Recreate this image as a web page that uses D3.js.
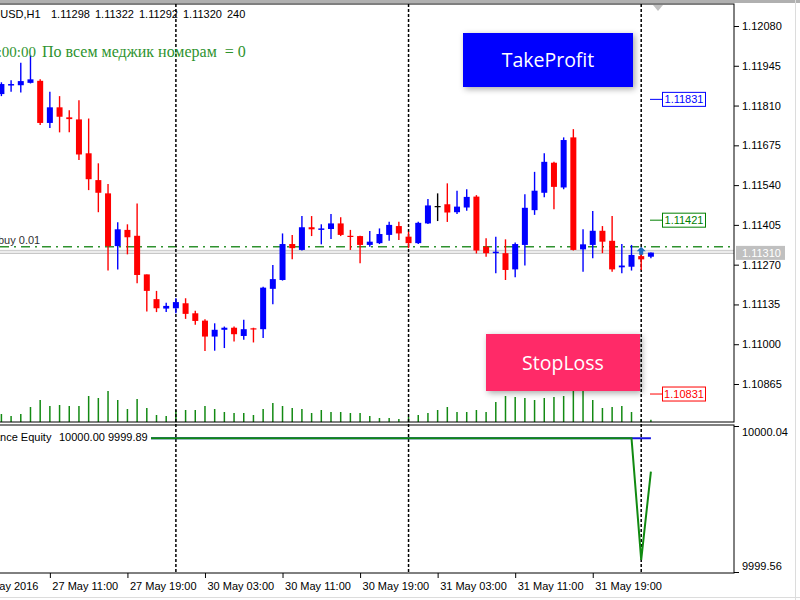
<!DOCTYPE html>
<html>
<head>
<meta charset="utf-8">
<script src="https://cdn.jsdelivr.net/npm/d3@7"></script>
<style>
  body { margin: 0; background: #fff; }
  svg { display: block; }
  .axis text { font-family: 'Liberation Sans', Arial, sans-serif; font-size: 11px; fill: #000; }
  .axis line { stroke: #000; }
</style>
</head>
<body>
<svg id="chart" width="800" height="600"></svg>
<script>
// EURUSD H1 candles, bar 0 = 27 May 06:00 ... bar 67 = 1 Jun 01:00
const opens  = [1.11849,1.11878,1.11879,1.11887,1.11894,1.11751,1.11804,1.11770,1.11763,1.11648,
                1.11557,1.11512,1.11333,1.11388,1.11368,1.11237,1.11153,1.11121,1.11122,1.11139,
                1.11105,1.11080,1.11026,1.11049,1.11056,1.11028,1.11054,1.11051,1.11188,1.11218,
                1.11340,1.11320,1.11397,1.11388,1.11391,1.11410,1.11368,1.11367,1.11337,1.11343,
                1.11371,1.11401,1.11365,1.11343,1.11410,1.11469,1.11475,1.11448,1.11464,1.11501,
                1.11331,1.11309,1.11309,1.11254,1.11337,1.11455,1.11514,1.11616,1.11532,1.11702,
                1.11322,1.11337,1.11385,1.11351,1.11261,1.11263,1.11299,1.11297];
const highs  = [1.11889,1.11896,1.11955,1.11981,1.11899,1.11857,1.11842,1.11794,1.11828,1.11766,
                1.11614,1.11544,1.11414,1.11407,1.11478,1.11237,1.11181,1.11141,1.11156,1.11156,
                1.11114,1.11085,1.11071,1.11060,1.11060,1.11083,1.11056,1.11195,1.11269,1.11376,
                1.11371,1.11435,1.11435,1.11407,1.11442,1.11431,1.11388,1.11368,1.11384,1.11393,
                1.11416,1.11416,1.11382,1.11416,1.11493,1.11512,1.11546,1.11521,1.11526,1.11506,
                1.11360,1.11365,1.11356,1.11345,1.11509,1.11585,1.11648,1.11619,1.11702,1.11730,
                1.11390,1.11452,1.11401,1.11435,1.11340,1.11337,1.11310,1.11311];
const lows   = [1.11842,1.11857,1.11854,1.11885,1.11744,1.11734,1.11719,1.11719,1.11625,1.11523,
                1.11448,1.11250,1.11254,1.11305,1.11207,1.11111,1.11109,1.11109,1.11105,1.11086,
                1.11066,1.10977,1.10978,1.10987,1.11009,1.11015,1.11006,1.11021,1.11136,1.11216,
                1.11288,1.11318,1.11367,1.11339,1.11357,1.11367,1.11320,1.11275,1.11331,1.11340,
                1.11351,1.11354,1.11326,1.11340,1.11408,1.11418,1.11415,1.11442,1.11453,1.11308,
                1.11297,1.11241,1.11218,1.11227,1.11267,1.11439,1.11499,1.11458,1.11526,1.11318,
                1.11246,1.11292,1.11309,1.11246,1.11241,1.11250,1.11252,1.11292];
const closes = [1.11883,1.11883,1.11893,1.11899,1.11751,1.11804,1.11772,1.11764,1.11644,1.11560,
                1.11514,1.11333,1.11390,1.11363,1.11235,1.11181,1.11122,1.11130,1.11143,1.11103,
                1.11079,1.11026,1.11049,1.11056,1.11034,1.11051,1.11051,1.11192,1.11221,1.11340,
                1.11326,1.11397,1.11390,1.11393,1.11410,1.11371,1.11365,1.11337,1.11348,1.11374,
                1.11405,1.11376,1.11343,1.11412,1.11471,1.11469,1.11447,1.11467,1.11500,1.11318,
                1.11309,1.11314,1.11252,1.11340,1.11463,1.11521,1.11619,1.11534,1.11693,1.11320,
                1.11339,1.11385,1.11348,1.11254,1.11267,1.11303,1.11288,1.11311];
const volumes = [880,660,880,1650,2420,1760,1870,1760,1760,2860,
                 2640,3410,2420,1430,2530,1540,770,660,1320,1320,
                 1320,1760,1430,1100,990,990,770,1430,2090,1760,
                 1540,1430,990,1320,1100,1100,990,990,660,440,
                 440,330,550,770,990,1320,1650,1100,1100,1320,
                 1100,2200,2860,2750,2640,2420,2640,2750,2860,3410,
                 3410,2420,1540,1650,1760,1100,330,240];

// Balance / Equity indicator
const balance = Array(68).fill(10000.00);
const equity = Array(66).fill(10000.00).concat([9999.60, 9999.89]);

// axis ticks
const priceTicks = [1.12080,1.11945,1.11810,1.11675,1.11540,1.11405,1.11270,1.11135,1.11000,1.10865];
const eqTicks = [10000.04, 9999.56];
const timeTickBars = [-3, 5, 13, 21, 29, 37, 45, 53, 61];
const timeLabels = ['27 May 2016','27 May 11:00','27 May 19:00','30 May 03:00','30 May 11:00',
                    '30 May 19:00','31 May 03:00','31 May 11:00','31 May 19:00'];
const daySeparators = [18, 42, 66];

// order levels
const openPrice = 1.11331;
const bidPrice = 1.11310;
const levels = [
    {price: 1.11831, color: '#0000ff'},
    {price: 1.11421, color: '#008000'},
    {price: 1.10831, color: '#ff0000'}
];
const headerVals = ['1.11298', '1.11322', '1.11292', '1.11320', '240'];

let plotRight = 734;
let mainTop = 4, mainBottom = 422;
let indTop = 425, indBottom = 573;
let font = "'Liberation Sans', Arial, sans-serif";

let svg = d3.select('#chart');

let defs = svg.append('defs');
let shadow = defs.append('filter').attr('id', 'shadow')
    .attr('x', '-20%').attr('y', '-30%').attr('width', '140%').attr('height', '160%');
shadow.append('feDropShadow')
    .attr('dx', 2).attr('dy', 2).attr('stdDeviation', 3)
    .attr('flood-color', '#000').attr('flood-opacity', 0.35);

// scales
let xScale = d3.scaleLinear().domain([0, 67]).range([1.4, 650.9]);
let yScale = d3.scaleLinear().domain([1.10865, 1.12080]).range([384, 26]);
let volScale = d3.scaleLinear().domain([0, d3.max(volumes)]).range([mainBottom, mainBottom - 31]);
let eqScale = d3.scaleLinear().domain([9999.56, 10000.04]).range([572, 426]);

let bars = opens.map(function(o, i){
    return {i: i, o: o, h: highs[i], l: lows[i], c: closes[i], v: volumes[i]};
});

// window frame
svg.append('rect').attr('x', 0).attr('y', 0).attr('width', 800).attr('height', 3).attr('fill', '#b0b0b0');
svg.append('line').attr('x1', 795.5).attr('x2', 795.5).attr('y1', 0).attr('y2', 600).attr('stroke', '#dcdcdc');
svg.append('line').attr('x1', 0).attr('x2', 800).attr('y1', 597.5).attr('y2', 597.5).attr('stroke', '#dcdcdc');

// volumes
svg.selectAll('.vol')
    .data(bars)
    .enter()
    .append('line')
    .attr('class', 'vol')
    .attr('x1', d => xScale(d.i)).attr('x2', d => xScale(d.i))
    .attr('y1', volScale(0)).attr('y2', d => volScale(d.v))
    .attr('stroke', '#138a13')
    .attr('stroke-width', 1.5);

// bid line band
svg.append('line').attr('x1', 0).attr('x2', plotRight)
    .attr('y1', yScale(bidPrice) - 2.5).attr('y2', yScale(bidPrice) - 2.5)
    .attr('stroke', '#c4c4c4').attr('stroke-width', 1);
svg.append('line').attr('x1', 0).attr('x2', plotRight)
    .attr('y1', yScale(bidPrice) + 0.5).attr('y2', yScale(bidPrice) + 0.5)
    .attr('stroke', '#c4c4c4').attr('stroke-width', 1.2);
svg.append('rect').attr('x', 0).attr('width', plotRight)
    .attr('y', yScale(bidPrice) - 2).attr('height', 2.2).attr('fill', '#ececec');

// order open price line (dash-dot)
svg.append('line').attr('x1', 0).attr('x2', plotRight)
    .attr('y1', yScale(openPrice)).attr('y2', yScale(openPrice))
    .attr('stroke', '#2f922f').attr('stroke-width', 1.5)
    .attr('stroke-dasharray', '9,5,2,5');

svg.append('text')
    .attr('x', -2).attr('y', yScale(openPrice) - 3)
    .attr('font-family', font).attr('font-size', '11px').attr('fill', '#303030')
    .text('buy 0.01');

// day separators
svg.selectAll('.sep')
    .data(daySeparators)
    .enter()
    .append('line')
    .attr('class', 'sep')
    .attr('x1', d => xScale(d)).attr('x2', d => xScale(d))
    .attr('y1', mainTop).attr('y2', indBottom)
    .attr('stroke', '#000').attr('stroke-width', 1.5)
    .attr('stroke-dasharray', '3,2');

// candles
let candle = svg.selectAll('.candle')
    .data(bars)
    .enter()
    .append('g')
    .attr('class', 'candle');

function candleColor(d){
    if(d.c > d.o){ return '#0000ff'; }
    if(d.c < d.o){ return '#ff0000'; }
    return '#000000';
}

candle.append('line')
    .attr('x1', d => xScale(d.i)).attr('x2', d => xScale(d.i))
    .attr('y1', d => yScale(d.h)).attr('y2', d => yScale(d.l))
    .attr('stroke', candleColor)
    .attr('stroke-width', 1.4);

candle.append('rect')
    .attr('x', d => xScale(d.i) - 3)
    .attr('width', 6)
    .attr('y', d => yScale(Math.max(d.o, d.c)))
    .attr('height', d => Math.max(1.2, yScale(Math.min(d.o, d.c)) - yScale(Math.max(d.o, d.c))))
    .attr('fill', candleColor);

// buy arrow on the bar where the order was opened
let ax = xScale(66), ay = yScale(openPrice);
svg.append('path')
    .attr('d', 'M' + ax + ',' + (ay) + ' l4.5,4.5 h-2.5 v3.5 h-4 v-3.5 h-2.5 z')
    .attr('fill', '#1f6cc0');

// price level tags at the right
let tags = svg.selectAll('.tag')
    .data(levels)
    .enter()
    .append('g')
    .attr('class', 'tag');
tags.append('line')
    .attr('x1', 650).attr('x2', 662)
    .attr('y1', d => yScale(d.price)).attr('y2', d => yScale(d.price))
    .attr('stroke', d => d.color);
tags.append('rect')
    .attr('x', 662.5).attr('width', 43)
    .attr('y', d => yScale(d.price) - 7).attr('height', 14)
    .attr('fill', '#fff').attr('stroke', d => d.color);
tags.append('text')
    .attr('x', 684).attr('y', d => yScale(d.price) + 4)
    .attr('text-anchor', 'middle')
    .attr('font-family', font).attr('font-size', '11px')
    .attr('fill', d => d.color)
    .text(d => d.price.toFixed(5));

// equity panel lines
let eqLine = d3.line()
    .x((d, i) => xScale(i))
    .y(d => eqScale(d));
svg.append('path').datum(balance)
    .attr('d', eqLine).attr('fill', 'none')
    .attr('stroke', '#1414e0').attr('stroke-width', 2);
svg.append('path').datum(equity)
    .attr('d', eqLine).attr('fill', 'none')
    .attr('stroke', '#108a10').attr('stroke-width', 2);

// label of the indicator window
svg.append('rect').attr('x', 0).attr('y', 429).attr('width', 151).attr('height', 15).attr('fill', '#fff');
svg.append('text')
    .attr('x', -22).attr('y', 441)
    .attr('font-family', font).attr('font-size', '11px').attr('fill', '#000')
    .text('Balance Equity');
svg.append('text')
    .attr('x', 59).attr('y', 441)
    .attr('font-family', font).attr('font-size', '11px').attr('fill', '#000')
    .text(balance[balance.length - 1].toFixed(2) + ' ' + equity[equity.length - 1].toFixed(2));

// panel frames
svg.append('rect').attr('x', -2).attr('y', mainTop).attr('width', plotRight + 2).attr('height', mainBottom - mainTop)
    .attr('fill', 'none').attr('stroke', '#000');
svg.append('rect').attr('x', -2).attr('y', indTop).attr('width', plotRight + 2).attr('height', indBottom - indTop)
    .attr('fill', 'none').attr('stroke', '#000');

// price axis
let yAxis = d3.axisRight(yScale)
    .tickValues(priceTicks)
    .tickSize(5)
    .tickPadding(3)
    .tickFormat(d3.format('.5f'));
svg.append('g')
    .attr('class', 'axis')
    .attr('transform', 'translate(' + plotRight + ',0)')
    .call(yAxis)
    .call(g => g.select('.domain').remove());

// bid tag on axis
svg.append('rect').attr('x', 736).attr('y', yScale(bidPrice) - 7).attr('width', 49).attr('height', 14)
    .attr('fill', '#c0c0c0');
svg.append('text')
    .attr('x', 742).attr('y', yScale(bidPrice) + 4)
    .attr('font-family', font).attr('font-size', '11px').attr('fill', '#fff')
    .text(bidPrice.toFixed(5));

// equity axis
let eqAxis = d3.axisRight(eqScale)
    .tickValues(eqTicks)
    .tickSize(5)
    .tickPadding(3)
    .tickFormat(d3.format('.2f'));
svg.append('g')
    .attr('class', 'axis')
    .attr('transform', 'translate(' + plotRight + ',0)')
    .call(eqAxis)
    .call(g => g.select('.domain').remove())
    .call(g => g.selectAll('text').attr('dy', d => d === eqTicks[0] ? '0.85em' : '-0.22em'));

// time axis
let xAxis = d3.axisBottom(xScale)
    .tickValues(timeTickBars)
    .tickSize(5)
    .tickPadding(4)
    .tickFormat((d, i) => timeLabels[i]);
svg.append('g')
    .attr('class', 'axis')
    .attr('transform', 'translate(0,' + indBottom + ')')
    .call(xAxis)
    .call(g => g.select('.domain').remove())
    .call(g => g.selectAll('text').attr('text-anchor', 'start').attr('dx', 2));

// shift marker
svg.append('path').attr('d', 'M653,5 L663,5 L658,11 Z').attr('fill', '#c0c0c0');

// header line
svg.append('text')
    .attr('x', -23).attr('y', 18)
    .attr('font-family', font).attr('font-size', '11px').attr('fill', '#000')
    .text('EURUSD,H1');
svg.selectAll('.hdr')
    .data(headerVals)
    .enter()
    .append('text')
    .attr('class', 'hdr')
    .attr('x', (d, i) => 51 + i * 44)
    .attr('y', 18)
    .attr('font-family', font).attr('font-size', '11px').attr('fill', '#000')
    .text(d => d);

// comment
svg.append('text')
    .attr('x', 36).attr('y', 57).attr('text-anchor', 'end')
    .attr('font-family', "'Liberation Serif', 'Times New Roman', serif").attr('font-size', '15px')
    .attr('fill', '#2e932e')
    .text('2016.06.01 01:00:00');
svg.append('text')
    .attr('x', 42).attr('y', 57)
    .attr('font-family', "'Liberation Serif', 'Times New Roman', serif").attr('font-size', '16px')
    .attr('fill', '#2e932e')
    .attr('xml:space', 'preserve')
    .text('По всем меджик номерам  = 0');

// buttons
function drawButton(x, y, w, h, fill, label){
    let g = svg.append('g');
    g.append('rect')
        .attr('x', x).attr('y', y).attr('width', w).attr('height', h)
        .attr('fill', fill)
        .attr('filter', 'url(#shadow)');
    g.append('text')
        .attr('x', x + w / 2).attr('y', y + h / 2 + 7)
        .attr('text-anchor', 'middle')
        .attr('font-family', "'Open Sans', 'Noto Sans', sans-serif")
        .attr('font-size', '19.5px')
        .attr('fill', '#fff')
        .text(label);
}
drawButton(463, 33, 170, 54, '#0000ff', 'TakeProfit');
drawButton(486, 334, 154, 57, '#ff2a68', 'StopLoss');
</script>
</body>
</html>
